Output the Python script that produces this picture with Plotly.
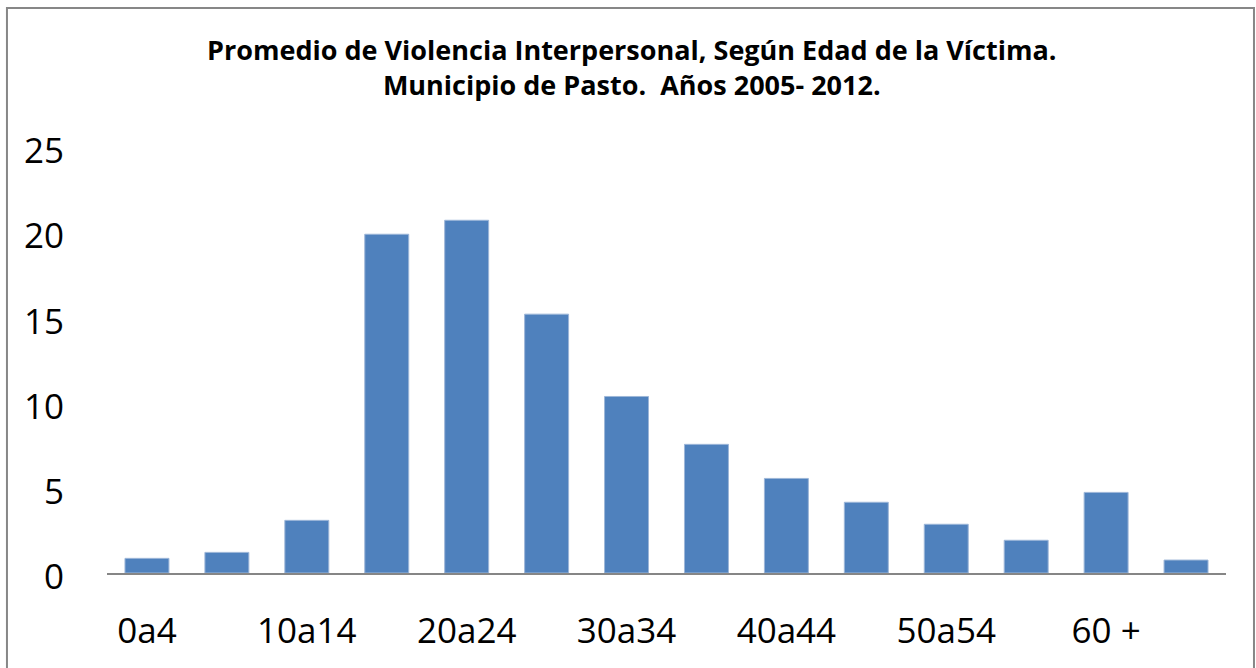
import plotly.graph_objects as go

categories = ["0a4", "5a9", "10a14", "15a19", "20a24", "25a29", "30a34",
              "35a39", "40a44", "45a49", "50a54", "55a59", "60 +", "Sin dato"]
values = [0.86, 1.21, 3.09, 19.88, 20.70, 15.19, 10.36,
          7.55, 5.55, 4.15, 2.86, 1.92, 4.73, 0.76]
shown_ticks = ["0a4", "10a14", "20a24", "30a34", "40a44", "50a54", "60 +"]
y_ticks = [0, 5, 10, 15, 20, 25]

title_text = ("<b>Promedio de Violencia Interpersonal, Según Edad de la Víctima.</b><br>"
              "<b>Municipio de Pasto.  Años 2005- 2012.</b>")

fig = go.Figure()
fig.add_trace(go.Bar(
    x=categories, y=values,
    marker=dict(color="#4F81BD", line=dict(color="#9DB6D8", width=1)),
))

fig.update_layout(
    width=1256, height=668,
    margin=dict(l=107, r=30, t=147, b=95),
    paper_bgcolor="white", plot_bgcolor="white",
    bargap=0.45,
    showlegend=False,
    font=dict(family="Open Sans", color="black"),
    title=dict(text=title_text, x=0.503, xanchor="center", xref="container",
               y=0.91, yanchor="middle",
               font=dict(family="Open Sans", size=27, color="black")),
    xaxis=dict(
        type="category",
        tickmode="array", tickvals=shown_ticks, ticktext=shown_ticks,
        showline=True, linecolor="#868686", linewidth=2,
        showgrid=False, ticks="", ticklabelstandoff=26,
        tickfont=dict(family="Open Sans", size=35, color="black"),
        range=[-0.5, len(categories) - 0.5],
    ),
    yaxis=dict(
        range=[0, 25], tickmode="array", tickvals=y_ticks,
        showgrid=False, zeroline=False, showline=False, ticks="",
        ticklabelstandoff=42, ticklabelshift=4,
        tickfont=dict(family="Open Sans", size=35, color="black"),
    ),
    shapes=[dict(type="rect", xref="paper", yref="paper",
                 x0=-0.0894, x1=1.025, y0=-0.25, y1=1.326,
                 line=dict(color="#878787", width=2), fillcolor="rgba(0,0,0,0)",
                 layer="below")],
)

fig.write_html(
    "out.html",
    config={"displayModeBar": False},
    post_script="document.body.style.margin='0';document.body.style.overflow='hidden';",
)
